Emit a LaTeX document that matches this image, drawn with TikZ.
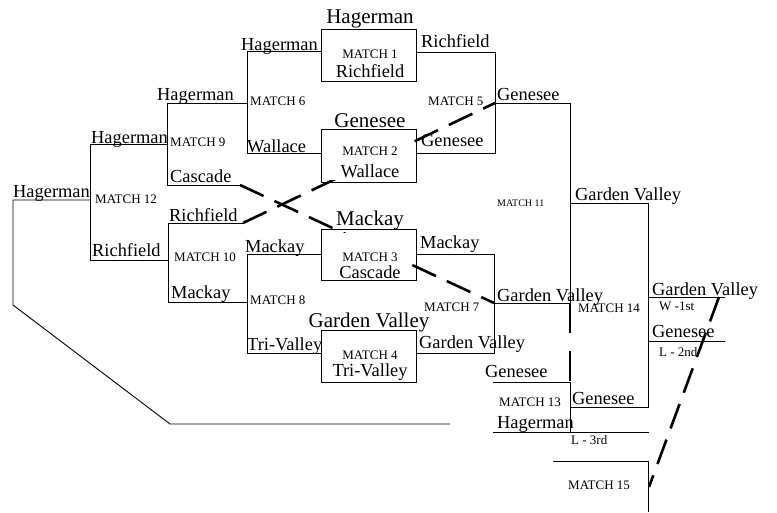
\documentclass[tikz,border=0pt]{standalone}
\usepackage{fontspec}
\setmainfont{Liberation Serif}
\begin{document}
\begin{tikzpicture}[x=1pt,y=-1pt,
  ln/.style={line width=0.9pt},
  dsh/.style={line width=2.6pt, dash pattern=on 26pt off 12pt},
  vdsh/.style={line width=2.6pt, dash pattern=on 30pt off 18pt},
  team/.style={font=\fontsize{18.4}{20}\selectfont, inner sep=0pt, anchor=base west},
  inteam/.style={font=\fontsize{18.4}{20}\selectfont, inner sep=0pt, anchor=base},
  hdr/.style={font=\fontsize{21}{24}\selectfont, inner sep=0pt, anchor=base},
  mlab/.style={font=\fontsize{13}{15}\selectfont, inner sep=0pt, anchor=west},
  inm/.style={font=\fontsize{13}{15}\selectfont, inner sep=0pt, anchor=base},
  smlab/.style={font=\fontsize{10}{12}\selectfont, inner sep=0pt, anchor=west},
  mbox/.style={draw, line width=1pt, minimum width=95pt, inner sep=0pt}]
\useasboundingbox (0,0) rectangle (777,512);
% boxes
\node[mbox, minimum height=52pt] (b1) at (368.5,55) {};
\node[mbox, minimum height=53pt] (b2) at (368.5,155.5) {};
\node[mbox, minimum height=51pt] (b3) at (368.5,254.5) {};
\node[mbox, minimum height=52pt] (b4) at (368.5,356) {};
% coordinates
\coordinate (h0) at (13,200);
\coordinate (c12) at (90,200);
\coordinate (c12t) at (90,144);
\coordinate (c12b) at (90,260);
\coordinate (c9t) at (167,103);
\coordinate (c9m) at (167,144);
\coordinate (c9b) at (167,185);
\coordinate (casE) at (240,185);
\coordinate (c10t) at (168,223);
\coordinate (c10m) at (168,260);
\coordinate (c10b) at (168,302);
\coordinate (richE) at (243,223);
\coordinate (c6t) at (247,51);
\coordinate (c6m) at (247,103);
\coordinate (c6b) at (247,153);
\coordinate (c8t) at (247,254);
\coordinate (c8m) at (247,302);
\coordinate (c8b) at (247,353);
\coordinate (c5t) at (495,52);
\coordinate (c5m) at (495,103);
\coordinate (c5b) at (495,153);
\coordinate (c7t) at (494,254);
\coordinate (c7m) at (494,303);
\coordinate (c7b) at (494,353);
\coordinate (c11t) at (570,103);
\coordinate (c11m) at (570,203);
\coordinate (c11b) at (570,303);
\coordinate (c14t) at (648,203);
\coordinate (c14w) at (648,297);
\coordinate (c14l) at (648,341);
\coordinate (c14b) at (648,407);
\coordinate (wE) at (725,297);
\coordinate (lE) at (725,341);
\coordinate (c13t) at (570,382);
\coordinate (c13m) at (570,407);
\coordinate (c13b) at (570,432);
\coordinate (gS) at (493,382);
\coordinate (hS) at (493,432);
\coordinate (l3E) at (649,432);
\coordinate (c15s) at (553,461);
\coordinate (c15c) at (648,461);
\coordinate (c15b) at (648,512);
\coordinate (lp1) at (13,305);
\coordinate (lp2) at (170,424);
\coordinate (lp3) at (450,424);
\coordinate (dw) at (719,297);
\coordinate (d15) at (649,487);
% bracket lines
\draw[ln] (lp3) -- (lp2) -- (lp1) -- (h0) -- (c12);
\draw[ln] (c12t) -- (c12b);
\draw[ln] (c12t) -- (c9m);
\draw[ln] (c9t) -- (c9b) -- (casE);
\draw[ln] (c12b) -- (c10m);
\draw[ln] (richE) -- (c10t) -- (c10b) -- (c8m);
\draw[ln] (c9t) -- (c6m);
\draw[ln] (c6t) -- (c6b);
\draw[ln] (c6t) -- (c6t -| b1.west);
\draw[ln] (c6b) -- (c6b -| b2.west);
\draw[ln] (c8t) -- (c8b);
\draw[ln] (c8t) -- (c8t -| b3.west);
\draw[ln] (c8b) -- (c8b -| b4.west);
\draw[ln] (c5t -| b1.east) -- (c5t) -- (c5b) -- (c5b -| b2.east);
\draw[ln] (c5m) -- (c11t) -- (c11b) -- (c7m);
\draw[ln] (c7t -| b3.east) -- (c7t) -- (c7b) -- (c7b -| b4.east);
\draw[ln] (c11m) -- (c14t) -- (c14b) -- (c13m);
\draw[ln] (c14w) -- (wE);
\draw[ln] (c14l) -- (lE);
\draw[ln] (gS) -- (c13t) -- (c13b);
\draw[ln] (hS) -- (l3E);
\draw[ln] (c15s) -- (c15c) -- (c15b);
% dashed lines
\draw[dsh] (casE) -- (c7m);
\draw[dsh] (richE) -- (c5m);
\draw[vdsh] (c11b) -- (c13t);
\draw[dsh] (dw) -- (d15);
% white patches inside boxes
\fill[white] (329,143) rectangle (406,180);
\fill[white] (343,233) rectangle (411,265);
% box texts
\node[hdr] (hb1) at (370,23) {Hagerman};
\node[inm] (m1) at (370,58) {MATCH 1};
\node[inteam] (r1) at (370,77) {Richfield};
\node[hdr] (hb2) at (370,127) {Genesee};
\node[inm] (m2) at (370,155) {MATCH 2};
\node[inteam] (r2) at (370,177) {Wallace};
\node[hdr] (hb3) at (370,225) {Mackay};
\node[inm] (m3) at (370,261.5) {MATCH 3};
\node[inteam] (r3) at (370,278) {Cascade};
\node[hdr] (hb4) at (369,327) {Garden Valley};
\node[inm] (m4) at (370,359) {MATCH 4};
\node[inteam] (r4) at (370,376) {Tri-Valley};
% team labels
\node[team] (t1) at (13,197) {Hagerman};
\node[team] (t2) at (91,143) {Hagerman};
\node[team] (t3) at (157,100) {Hagerman};
\node[team] (t4) at (170,182) {Cascade};
\node[team] (t5) at (169,221) {Richfield};
\node[team] (t6) at (92,256) {Richfield};
\node[team] (t7) at (171,298) {Mackay};
\node[team] (t8) at (241,50) {Hagerman};
\node[team] (t9) at (247,152) {Wallace};
\node[team] (t10) at (421,47) {Richfield};
\node[team] (t11) at (421,146) {Genesee};
\node[team] (t12) at (497,100) {Genesee};
\node[team] (t13) at (245,252) {Mackay};
\node[team] (t14) at (420,248) {Mackay};
\node[team] (t15) at (247,350) {Tri-Valley};
\node[team] (t16) at (419,348) {Garden Valley};
\node[team] (t17) at (497,301) {Garden Valley};
\node[team] (t18) at (575,200) {Garden Valley};
\node[team] (t19) at (652,295) {Garden Valley};
\node[team] (t20) at (652,337) {Genesee};
\node[team] (t21) at (485,377) {Genesee};
\node[team] (t22) at (572,404) {Genesee};
\node[team] (t23) at (497,428) {Hagerman};
% match labels
\node[mlab] (m12) at (95,199.5) {MATCH 12};
\node[mlab] (m9) at (170,142.5) {MATCH 9};
\node[mlab] (m6) at (250,101.5) {MATCH 6};
\node[mlab] (m5) at (428,101.5) {MATCH 5};
\node[mlab] (m10) at (174,257.5) {MATCH 10};
\node[mlab] (m8) at (250,300.5) {MATCH 8};
\node[mlab] (m7) at (424,307.5) {MATCH 7};
\node[smlab] (m11) at (497,203) {MATCH 11};
\node[mlab] (m14) at (578,308) {MATCH 14};
\node[mlab] (m13) at (499,402) {MATCH 13};
\node[mlab] (m15) at (568,485) {MATCH 15};
\node[mlab] (w1) at (659,306) {W -1st};
\node[mlab] (l2) at (659,352) {L - 2nd};
\node[mlab] (l3) at (571,440) {L - 3rd};
\end{tikzpicture}
\end{document}
